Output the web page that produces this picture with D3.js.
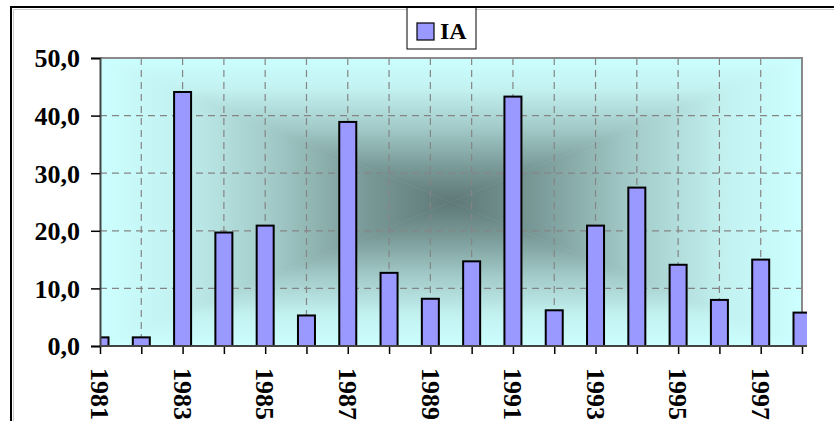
<!DOCTYPE html>
<html><head><meta charset="utf-8">
<script src="https://cdn.jsdelivr.net/npm/d3@7"></script>
<style>body{margin:0;background:#fff}svg{display:block}</style>
</head><body>
<svg id="chart" width="834" height="421"></svg>
<script>
const years = [1981,1982,1983,1984,1985,1986,1987,1988,1989,1990,1991,1992,1993,1994,1995,1996,1997,1998];
const iaValues = [1.5,1.5,44.1,19.7,20.9,5.3,38.9,12.7,8.2,14.7,43.3,6.2,20.9,27.5,14.1,8.0,15.0,5.8];
const yTicks = [0,10,20,30,40,50];
const xLabelYears = [1981,1983,1985,1987,1989,1991,1993,1995,1997];
const seriesName = "IA";

const svg = d3.select("#chart");
const L = 100, R = 802, T = 58, B = 346, clipR = 807;
const cx = (L + R) / 2, cy = (T + B) / 2;
const x = d3.scalePoint().domain(years).range([L, R]);
const y = d3.scaleLinear().domain([0, 50]).range([B, T]);
const font = "'Liberation Serif','Times New Roman',serif";

// outer frame
svg.append("path").attr("d", `M11,421 V7 H834`).attr("fill","none").attr("stroke","#000").attr("stroke-width",2);
svg.append("path").attr("d", `M12.5,421 V8.5 H834`).attr("fill","none").attr("stroke","#ccc").attr("stroke-width",1).attr("transform","translate(1,1)");

// background box gradient (from center)
const defs = svg.append("defs");
const stops = [[0,"#ccffff"],[0.22,"#c2f1f0"],[0.5,"#a0c8c6"],[0.75,"#7a9b99"],[1,"#5e7876"]];
function grad(id, x1, y1, x2, y2) {
  const g = defs.append("linearGradient").attr("id", id).attr("gradientUnits","userSpaceOnUse")
    .attr("x1",x1).attr("y1",y1).attr("x2",x2).attr("y2",y2);
  stops.forEach(s => g.append("stop").attr("offset", s[0]).attr("stop-color", s[1]));
}
grad("gTop", cx, T, cx, cy);
grad("gBot", cx, B, cx, cy);
grad("gLeft", L, cy, cx, cy);
grad("gRight", R, cy, cx, cy);
const bg = svg.append("g");
const tri = (pts, id) => bg.append("polygon").attr("points", pts.map(p => p.join(",")).join(" "))
  .attr("fill", `url(#${id})`).attr("stroke", `url(#${id})`).attr("stroke-width", 0.6);
tri([[L,T],[R,T],[cx,cy]], "gTop");
tri([[L,B],[R,B],[cx,cy]], "gBot");
tri([[L,T],[L,B],[cx,cy]], "gLeft");
tri([[R,T],[R,B],[cx,cy]], "gRight");

// gridlines
const grid = svg.append("g").attr("stroke","#858585").attr("stroke-width",1.2).attr("stroke-dasharray","7,5");
grid.selectAll("line.h").data(yTicks.filter(d => d > 0 && d < 50)).join("line")
  .attr("x1", L).attr("x2", R).attr("y1", d => y(d)).attr("y2", d => y(d));
grid.selectAll("line.v").data(years.slice(1, -1)).join("line")
  .attr("x1", d => x(d)).attr("x2", d => x(d)).attr("y1", T).attr("y2", B);

// plot border (top/right)
svg.append("path").attr("d", `M${L},${T} H${R} V${B}`).attr("fill","none").attr("stroke","#8a8a8a").attr("stroke-width",2);

// bars
defs.append("clipPath").attr("id","clip").append("rect").attr("x", L).attr("y", 0).attr("width", clipR - L).attr("height", B);
const bw = 17;
svg.append("g").attr("clip-path","url(#clip)").selectAll("rect").data(years.map((yr,i)=>({yr, v: iaValues[i]}))).join("rect")
  .attr("x", d => x(d.yr) - bw/2).attr("y", d => y(d.v)).attr("width", bw).attr("height", d => B - y(d.v))
  .attr("fill","#9999ff").attr("stroke","#000").attr("stroke-width",2);

// y axis
const yAxis = svg.append("g").attr("transform", `translate(${L},0)`)
  .call(d3.axisLeft(y).tickValues(yTicks).tickSize(9).tickPadding(11).tickFormat(d => d3.format(".1f")(d).replace(".", ",")));
yAxis.select(".domain").attr("stroke","#444").attr("stroke-width",2);
yAxis.selectAll(".tick line").attr("stroke","#000").attr("stroke-width",1.5);
yAxis.selectAll("text").attr("font-family", font).attr("font-weight","bold").attr("font-size",26).attr("fill","#000").attr("dy","0.34em");

// x axis
const xAxis = svg.append("g").attr("transform", `translate(0,${B})`)
  .call(d3.axisBottom(x).tickSize(8).tickFormat(""));
xAxis.select(".domain").remove();
svg.append("line").attr("x1", L).attr("x2", clipR).attr("y1", B).attr("y2", B).attr("stroke","#444").attr("stroke-width",2);
xAxis.selectAll(".tick line").attr("stroke","#000").attr("stroke-width",1.5);
svg.append("g").selectAll("text").data(xLabelYears).join("text")
  .attr("transform", d => `translate(${x(d)},368) rotate(90)`)
  .attr("dy","0.34em").attr("text-anchor","start")
  .attr("font-family", font).attr("font-weight","bold").attr("font-size",26).attr("fill","#000")
  .text(d => d);

// legend
const lg = svg.append("g");
lg.append("rect").attr("x",407).attr("y",7).attr("width",69).attr("height",42).attr("fill","#fff").attr("stroke","#000").attr("stroke-width",1);
lg.append("rect").attr("x",417).attr("y",23).attr("width",17).attr("height",17).attr("fill","#9999ff").attr("stroke","#000").attr("stroke-width",1.2);
lg.append("text").attr("x",440).attr("y",39).attr("font-family",font).attr("font-weight","bold").attr("font-size",24).attr("fill","#000").text(seriesName);
svg.append("line").attr("x1",407).attr("x2",476).attr("y1",7).attr("y2",7).attr("stroke","#000").attr("stroke-width",2);
</script>
</body></html>
